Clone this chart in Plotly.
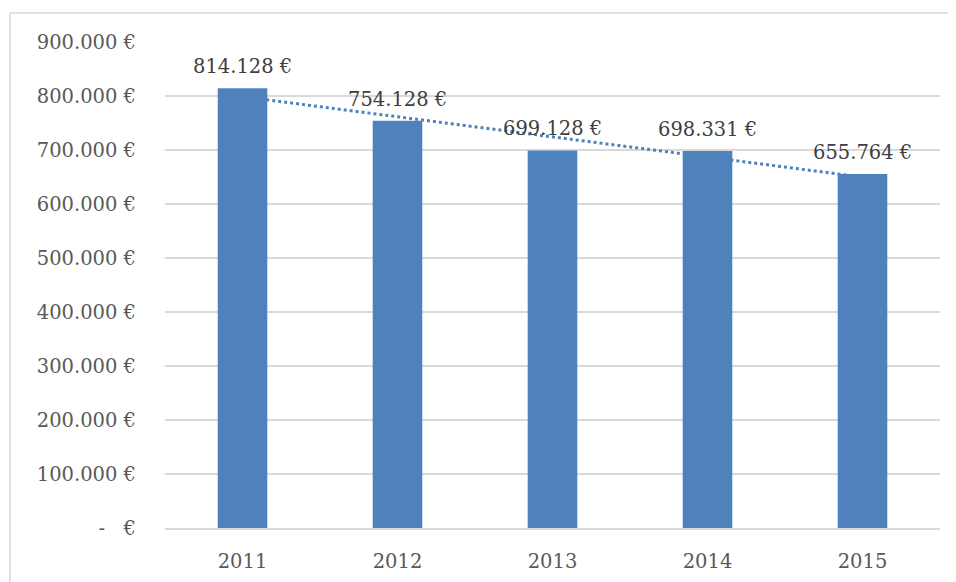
import numpy as np
import plotly.graph_objects as go

years = ["2011", "2012", "2013", "2014", "2015"]
values = [814128, 754128, 699128, 698331, 655764]
y_ticks = [0, 100000, 200000, 300000, 400000, 500000, 600000, 700000, 800000, 900000]

def eur(v):
    if v == 0:
        return "-\u00a0\u00a0\u00a0€"
    return f"{v:,.0f}".replace(",", ".") + " €"

y_ticktext = [eur(v) for v in y_ticks]
labels = [eur(v) for v in values]

# linear trendline (least squares, like Excel)
xi = np.arange(1, len(values) + 1)
slope, intercept = np.polyfit(xi, values, 1)
trend = [float(v) for v in slope * xi + intercept]

OFF = 8  # page body margin
W, H = 956 - OFF, 582 - OFF
L, R, T, B = 165 - OFF, 16, 42 - OFF, 54
pw, ph = W - L - R, H - T - B

BLUE = "#4F81BD"
FONT = "DejaVu Serif"
FS = 19.5

fig = go.Figure()
fig.add_trace(go.Bar(x=years, y=values, marker=dict(color=BLUE, line=dict(width=0)),
                     hoverinfo="skip"))
fig.add_trace(go.Scatter(x=years, y=trend, mode="lines",
                         line=dict(color=BLUE, width=3, dash="dot"), hoverinfo="skip"))

for i, (v, t) in enumerate(zip(values, labels)):
    fig.add_annotation(x=i, y=v, text=t, showarrow=False, yanchor="bottom",
                       yshift=9, borderpad=0,
                       font=dict(family=FONT, size=FS, color="#404040"))

def px_x(p):
    return (p - OFF - L) / pw

def px_y(p):
    return (H - B - (p - OFF)) / ph

# chart border (top and left visible)
fig.add_shape(type="line", xref="paper", yref="paper", x0=px_x(10), x1=px_x(960),
              y0=px_y(13), y1=px_y(13), line=dict(color="#D9D9D9", width=1.5))
fig.add_shape(type="line", xref="paper", yref="paper", x0=px_x(10), x1=px_x(10),
              y0=px_y(13), y1=px_y(590), line=dict(color="#D9D9D9", width=1.5))

fig.update_layout(
    width=W, height=H,
    margin=dict(l=L, r=R, t=T, b=B),
    paper_bgcolor="white", plot_bgcolor="white",
    showlegend=False,
    bargap=0.68,
    font=dict(family=FONT, size=FS, color="#595959"),
    xaxis=dict(type="category", range=[-0.5, len(years) - 0.5], automargin=False,
               showgrid=False, showline=True, linecolor="#D9D9D9",
               linewidth=1.5, ticks="", ticklabelstandoff=15,
               tickfont=dict(family=FONT, size=FS, color="#595959")),
    yaxis=dict(range=[0, 900000], tickvals=y_ticks, ticktext=y_ticktext, automargin=False,
               showgrid=True, gridcolor="#D9D9D9", gridwidth=1.5,
               zeroline=False, showline=False, ticks="", ticklabelstandoff=28,
               tickfont=dict(family=FONT, size=FS, color="#595959")),
)

fig.write_html("out.html")
